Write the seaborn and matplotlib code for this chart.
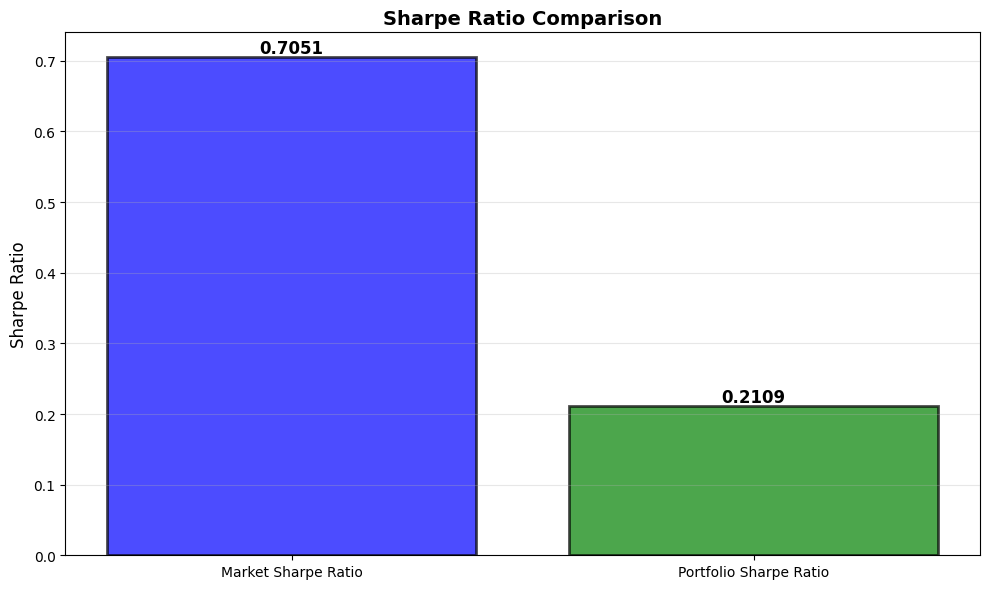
import matplotlib
matplotlib.use('Agg')
import matplotlib.pyplot as plt
import seaborn as sns
import pandas as pd

# Values
labels = ['Market Sharpe Ratio', 'Portfolio Sharpe Ratio']
sharpe = [0.7051, 0.2109]
colors = ['blue', 'green']

df = pd.DataFrame({'metric': labels, 'value': sharpe})

fig, ax = plt.subplots(figsize=(10, 6), dpi=100)
sns.barplot(data=df, x='metric', y='value', hue='metric', palette=colors,
            alpha=0.7, edgecolor='black', linewidth=2, width=0.8,
            saturation=1, legend=False, ax=ax)

for i, v in enumerate(sharpe):
    ax.text(i, v, f'{v:.4f}', ha='center', va='bottom', fontsize=12, fontweight='bold')

# match matplotlib's default bar margins
ax.set_xlim(-0.49, 1.49)
ax.set_title('Sharpe Ratio Comparison', fontsize=14, fontweight='bold')
ax.set_ylabel('Sharpe Ratio', fontsize=12)
ax.set_xlabel('')
ax.grid(axis='y', alpha=0.3)
ax.set_axisbelow(False)

fig.tight_layout()
fig.savefig('out.png', dpi=100, bbox_inches='tight')
